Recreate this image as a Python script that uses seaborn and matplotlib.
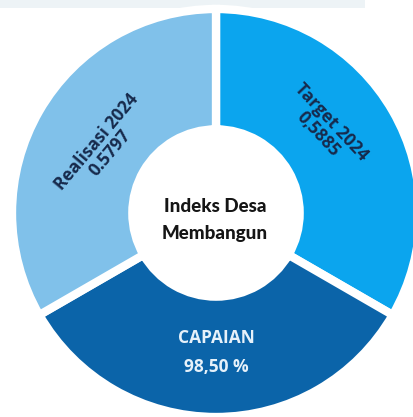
import numpy as np
import matplotlib
matplotlib.use("Agg")
import matplotlib.pyplot as plt
import seaborn as sns
from matplotlib.patches import Rectangle

# ---- data ----
categories = ["Target 2024", "CAPAIAN", "Realisasi 2024"]
slice_shares = [1, 1, 1]            # three equal segments as drawn
value_labels = ["0,5885", "98,50 %", "0.5797"]
center_title = ["Indeks Desa", "Membangun"]

sns.set_theme(style="white")
plt.rcParams['font.family'] = ['Open Sans', 'DejaVu Sans']

colors = ["#0ba5ee", "#0b64a9", "#80c1ea"]

fig = plt.figure(figsize=(4.14, 4.17), dpi=100)
fig.patch.set_facecolor("white")
# pale band at top
fig.add_artist(Rectangle((0, 1 - 8 / 417), 365 / 414, 8 / 417, transform=fig.transFigure,
                         facecolor="#edf3f6", edgecolor="none", zorder=0))

W, H = 414, 417
cx, cy, R = 216, 213, 204
ax = fig.add_axes([(cx - R) / W, (H - cy - R) / H, 2 * R / W, 2 * R / H])

ax.pie(slice_shares, colors=colors, startangle=90, counterclock=False, radius=1.0,
       wedgeprops=dict(width=0.59, edgecolor="white", linewidth=6))
ax.set_xlim(-1, 1)
ax.set_ylim(-1, 1)
ax.set_aspect("equal")
ax.axis("off")

navy = "#172a4c"

def pol(a, r):
    t = np.deg2rad(a)
    return r * np.cos(t), r * np.sin(t)

x, y = pol(38, 0.675)
ax.text(x, y, f"{categories[0]}\n{value_labels[0]}", rotation=-47, ha="center", va="center",
        fontsize=12.5, fontweight="bold", color=navy, linespacing=0.95, rotation_mode="anchor")
x, y = pol(150, 0.64)
ax.text(x, y, f"{categories[2]}\n{value_labels[2]}", rotation=50, ha="center", va="center",
        fontsize=12.5, fontweight="bold", color=navy, linespacing=0.95, rotation_mode="anchor")
# CAPAIAN
ax.text(0, -0.615, categories[1], ha="center", va="center", fontsize=12.5,
        fontweight="bold", color="#e6f1fa")
ax.text(0, -0.755, value_labels[1], ha="center", va="center", fontsize=12.5,
        fontweight="bold", color="#e6f1fa")
# center
ax.text(-0.005, 0.03, center_title[0], ha="center", va="center", fontsize=13.5,
        fontweight="black", color="#151515", family=["Lato", "DejaVu Sans"])
ax.text(-0.005, -0.10, center_title[1], ha="center", va="center", fontsize=13.5,
        fontweight="black", color="#151515", family=["Lato", "DejaVu Sans"])

fig.savefig("out.png", dpi=100)
